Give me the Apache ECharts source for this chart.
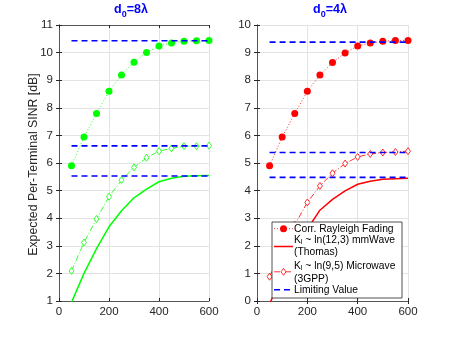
<!DOCTYPE html>
<html><head><meta charset="utf-8">
<script src="https://cdn.jsdelivr.net/npm/echarts@6/dist/echarts.min.js"></script>
<style>html,body{margin:0;padding:0;background:#fff}#c{width:452px;height:339px}</style>
</head><body><div id="c"></div>
<script>
const distances = [50,100,150,200,250,300,350,400,450,500,550,600];
const leftRayleigh   = [5.90,6.94,7.79,8.60,9.19,9.65,10.00,10.24,10.35,10.41,10.43,10.44];
const leftMmWave     = [0.95,2.00,2.90,3.69,4.27,4.74,5.05,5.32,5.45,5.52,5.54,5.55];
const leftMicrowave  = [2.09,3.12,3.97,4.78,5.38,5.84,6.19,6.43,6.53,6.61,6.61,6.63];
const leftLimits     = [10.43,6.62,5.53];
const rightRayleigh  = [4.90,5.94,6.79,7.60,8.19,8.64,8.99,9.24,9.35,9.41,9.44,9.44];
const rightMmWave    = [-0.10,0.90,1.80,2.60,3.29,3.68,3.99,4.23,4.34,4.41,4.43,4.45];
const rightMicrowave = [0.88,1.91,2.76,3.57,4.17,4.63,4.98,5.22,5.33,5.38,5.40,5.43];
const rightLimits    = [9.38,5.38,4.48];
const limitRange = [50,600];
const xTicks = {min:0,max:600,interval:200};
const leftY = {min:1,max:11,interval:1};
const rightY = {min:0,max:10,interval:1};
const titles = ['8','4'];
const legendLabels = ['Corr. Rayleigh Fading','K{s|l} ~ ln(12,3) mmWave','(Thomas)','K{s|l} ~ ln(9,5) Microwave','(3GPP)','Limiting Value'];

const FONT = '"Liberation Sans", Arial, Helvetica, sans-serif';
const AX = '#262626';
const leftGrid = {left:59,top:25,width:150,height:276};
const rightGrid = {left:257,top:25,width:151,height:276};
const grids = [leftGrid, leftGrid, rightGrid, rightGrid];

function xAxis(g, pos, labels){
  return {type:'value', gridIndex:g, position:pos, min:xTicks.min, max:xTicks.max, interval:xTicks.interval,
    axisLine:{show:true,lineStyle:{color:'#555',width:1}},
    axisTick:{show:true,inside:true,length:3,lineStyle:{color:AX}},
    axisLabel:{show:labels,color:AX,fontSize:11.5,fontFamily:FONT,margin:5},
    splitLine:{show:labels,lineStyle:{color:'#e3e3e3',width:1}}};
}
function yAxis(g, pos, r, labels){
  return {type:'value', gridIndex:g, position:pos, min:r.min, max:r.max, interval:r.interval,
    axisLine:{show:true,lineStyle:{color:'#555',width:1}},
    axisTick:{show:true,inside:true,length:3,lineStyle:{color:AX}},
    axisLabel:{show:labels,color:AX,fontSize:11.5,fontFamily:FONT,margin:6},
    splitLine:{show:labels,lineStyle:{color:'#e3e3e3',width:1}}};
}
const pair = (ys)=>distances.map((d,i)=>[d,ys[i]]);

function panelSeries(ax, color, ray, mm, mw, lims){
  const s = [];
  s.push({type:'line', xAxisIndex:ax, yAxisIndex:ax, data:pair(mm), symbol:'none',
    lineStyle:{color:color,width:1.5}, z:3, silent:true});
  s.push({type:'line', xAxisIndex:ax, yAxisIndex:ax, data:pair(mw), symbol:'diamond', symbolSize:[5,7],
    itemStyle:{color:'#fff',borderColor:color,borderWidth:0.8},
    lineStyle:{color:color,width:0.8,type:[6,2,1,2]}, z:3, silent:true});
  s.push({type:'line', xAxisIndex:ax, yAxisIndex:ax, data:pair(ray), symbol:'circle', symbolSize:7,
    itemStyle:{color:color,borderWidth:0},
    lineStyle:{color:color,width:0.8,type:[1,2]}, z:4, silent:true});
  lims.forEach(v=>{
    s.push({type:'line', xAxisIndex:ax, yAxisIndex:ax, data:limitRange.map(x=>[x,v]), symbol:'none',
      lineStyle:{color:'#0000ff',width:1.6,type:[6,4]}, z:5, silent:true});
  });
  return s;
}

const series = [].concat(
  panelSeries(0,'#00ff00',leftRayleigh,leftMmWave,leftMicrowave,leftLimits),
  panelSeries(2,'#ff0000',rightRayleigh,rightMmWave,rightMicrowave,rightLimits)
);

function titleText(cx, v){
  return {type:'text', left:cx-20, top:3, z:10, style:{
    text:'{a|d}{b|0}{a|='+v+'λ}', rich:{
      a:{fontSize:12.5,fontWeight:'bold',fill:'#0000ff',fontFamily:FONT,lineHeight:15,verticalAlign:'top'},
      b:{fontSize:9,fontWeight:'bold',fill:'#0000ff',fontFamily:FONT,lineHeight:15,padding:[7,0,0,0],verticalAlign:'top'}}}};
}

const LX = 272, LY = 222, LW = 130, LH = 76;
const lf = {fontSize:10.3,fontFamily:FONT,fill:'#000'};
const rich = {s:{fontSize:7,fontFamily:FONT,fill:'#000',padding:[5,0,0,0]}};
function ltext(y, t){return {type:'text', x:294, y:y, z:21, style:Object.assign({text:t, verticalAlign:'middle', rich:rich}, lf)};}
const legend = [
  {type:'rect', shape:{x:LX,y:LY,width:LW,height:LH}, z:20, style:{fill:'#fff',stroke:'#262626',lineWidth:0.8}},
  {type:'line', shape:{x1:274,y1:228.7,x2:293,y2:228.7}, z:21, style:{stroke:'#ff0000',lineWidth:0.8,lineDash:[1,2]}},
  {type:'circle', shape:{cx:283.5,cy:228.7,r:3.5}, z:21, style:{fill:'#ff0000'}},
  {type:'line', shape:{x1:274,y1:246.5,x2:293,y2:246.5}, z:21, style:{stroke:'#ff0000',lineWidth:1.5}},
  {type:'line', shape:{x1:274,y1:271.8,x2:293,y2:271.8}, z:21, style:{stroke:'#ff0000',lineWidth:0.8,lineDash:[6,2,1,2]}},
  {type:'polygon', shape:{points:[[283.5,268.3],[286,271.8],[283.5,275.3],[281,271.8]]}, z:22, style:{fill:'#fff',stroke:'#ff0000',lineWidth:0.8}},
  {type:'line', shape:{x1:274,y1:289.8,x2:293,y2:289.8}, z:21, style:{stroke:'#0000ff',lineWidth:1.6,lineDash:[6,4]}},
  ltext(228.7, legendLabels[0]),
  ltext(240, legendLabels[1]),
  ltext(252, legendLabels[2]),
  ltext(266, legendLabels[3]),
  ltext(278.7, legendLabels[4]),
  ltext(290.3, legendLabels[5])
];

const chart = echarts.init(document.getElementById('c'), null, {renderer:'canvas'});
chart.setOption({
  backgroundColor:'#fff',
  animation:false,
  grid: grids.map(g=>Object.assign({containLabel:false, show:false}, g)),
  xAxis:[xAxis(0,'bottom',true), xAxis(1,'top',false), xAxis(2,'bottom',true), xAxis(3,'top',false)],
  yAxis:[yAxis(0,'left',leftY,true), yAxis(1,'right',leftY,false), yAxis(2,'left',rightY,true), yAxis(3,'right',rightY,false)],
  series: series,
  graphic: [
    titleText(134, titles[0]), titleText(333, titles[1]),
    {type:'text', x:34, y:164.5, rotation:Math.PI/2, z:10, style:{text:'Expected Per-Terminal SINR [dB]', fontSize:12.3, fontFamily:FONT, fill:AX, align:'center', verticalAlign:'middle'}}
  ].concat(legend)
});
</script></body></html>
